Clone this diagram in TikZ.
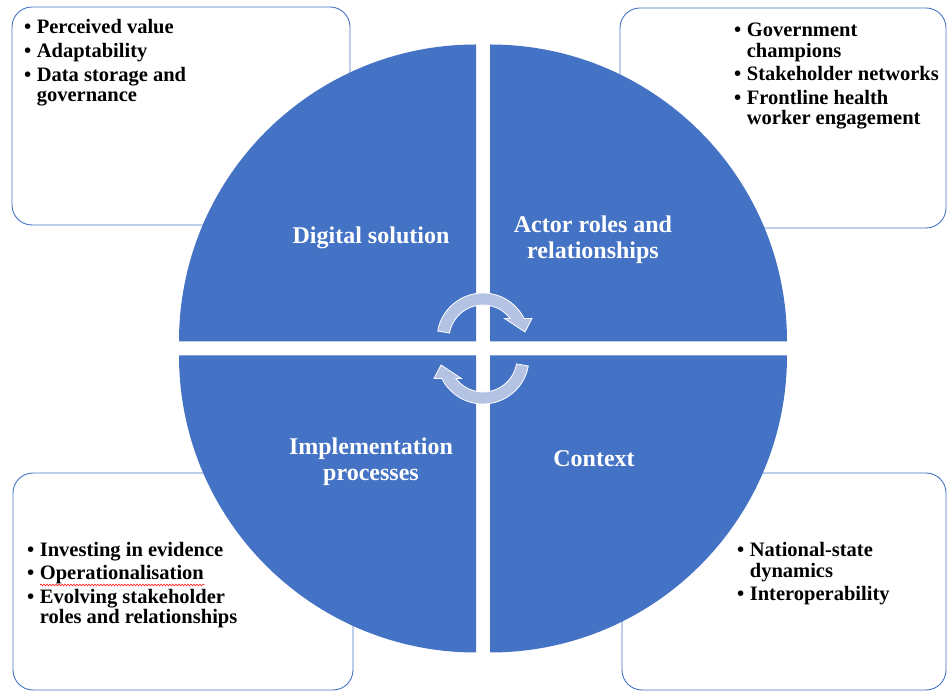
\documentclass[tikz,border=0pt]{standalone}
\usepackage{fontspec}
\setmainfont{Liberation Serif}
\usetikzlibrary{decorations.pathmorphing}
\definecolor{qblue}{HTML}{4472C4}
\definecolor{arrowfill}{RGB}{180,194,228}
\tikzset{
  infobox/.style={draw=qblue, line width=0.9pt, fill=white, rounded corners=20pt},
  quad/.style={fill=qblue, draw=none},
  cyclearrow/.style={fill=arrowfill, draw=white, line width=0.8pt},
  qlabel/.style={text=white, font=\fontsize{24}{26}\selectfont\bfseries, align=center, inner sep=0pt},
  blist/.style={font=\fontsize{20.5}{20}\selectfont\bfseries, inner sep=0pt, anchor=base west},
}
\newcommand{\bitem}{\textbullet}
\begin{document}
\begin{tikzpicture}[x=1pt,y=1pt]
\useasboundingbox (0,0) rectangle (948,691);
% outer boxes
\draw[infobox] (12,466) rectangle (350,684);
\draw[infobox] (620,463) rectangle (946,683);
\draw[infobox] (13,1) rectangle (353,218);
\draw[infobox] (622,1) rectangle (946,218);
% quadrants
\coordinate (ctl) at (476,349.5);
\coordinate (ctr) at (490,349.5);
\coordinate (cbl) at (476,335.5);
\coordinate (cbr) at (490,335.5);
\fill[quad] (ctl) -- ++(180:297) arc[start angle=180,end angle=90,radius=297pt] -- cycle;
\fill[quad] (ctr) -- ++(0:297) arc[start angle=0,end angle=90,radius=297pt] -- cycle;
\fill[quad] (cbl) -- ++(180:297) arc[start angle=180,end angle=270,radius=297pt] -- cycle;
\fill[quad] (cbr) -- ++(0:297) arc[start angle=0,end angle=-90,radius=297pt] -- cycle;
% cycle arrows
\begin{scope}[shift={(483,352)}]
\path[cyclearrow] (170:46) arc[start angle=170,end angle=26.5,radius=46pt] -- (49,20.5) -- (42,7) -- (21.5,20.5) -- (37:34) arc[start angle=37,end angle=170,radius=34pt] -- cycle;
\end{scope}
\begin{scope}[shift={(483,333)},rotate=180]
\path[cyclearrow] (170:46) arc[start angle=170,end angle=26.5,radius=46pt] -- (49,20.5) -- (42,7) -- (21.5,20.5) -- (37:34) arc[start angle=37,end angle=170,radius=34pt] -- cycle;
\end{scope}
% quadrant labels
\node[qlabel] (ds) at (371,453.5) {Digital solution};
\node[qlabel] (ar) at (593,451.5) {Actor roles and\\relationships};
\node[qlabel] (ip) at (371,229) {Implementation\\processes};
\node[qlabel] (cx) at (594,232) {Context};
% bullet lists
\node[blist] (ltl) at (24,657) {\begin{tabular}[t]{@{}l@{\hspace{5.5pt}}l@{}}
\bitem & Perceived value\\[3.5pt]
\bitem & Adaptability\\[3.5pt]
\bitem & Data storage and\\
 & governance
\end{tabular}};
\node[blist] (ltr) at (734,654) {\begin{tabular}[t]{@{}l@{\hspace{5.5pt}}l@{}}
\bitem & Government\\
 & champions\\[3.5pt]
\bitem & Stakeholder networks\\[3.5pt]
\bitem & Frontline health\\
 & worker engagement
\end{tabular}};
\node[blist] (lbl) at (27,134) {\begin{tabular}[t]{@{}l@{\hspace{5.5pt}}l@{}}
\bitem & Investing in evidence\\[2.5pt]
\bitem & Operationalisation\\[3.5pt]
\bitem & Evolving stakeholder\\
 & roles and relationships
\end{tabular}};
\node[blist] (lbr) at (737,134) {\begin{tabular}[t]{@{}l@{\hspace{5.5pt}}l@{}}
\bitem & National-state\\
 & dynamics\\[3.5pt]
\bitem & Interoperability
\end{tabular}};
% spell-check squiggle
\draw[red, line width=0.5pt, decorate, decoration={snake, amplitude=0.9pt, segment length=3pt}] (40,106) -- (205,106);
\end{tikzpicture}
\end{document}
